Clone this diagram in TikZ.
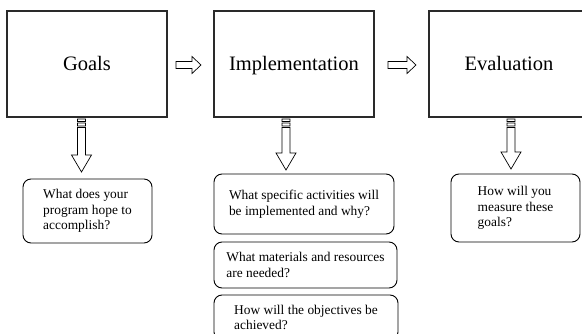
\documentclass[tikz,border=0pt]{standalone}
\usepackage{fontspec}
\setmainfont{Liberation Serif}
\usetikzlibrary{positioning, calc}
\definecolor{boxgray}{HTML}{2A2A2A}

\begin{document}
\begin{tikzpicture}[x=1pt, y=-1pt,
  stage/.style={draw=boxgray, line width=1.1pt, minimum width=160pt, minimum height=106pt, inner sep=0pt, outer sep=0pt, text height=16pt, text depth=2pt, font=\fontsize{20.5}{24}\selectfont},
  question/.style={draw, line width=0.9pt, rounded corners=8pt, align=left, inner sep=0pt, outer sep=0pt, font=\fontsize{13.4}{15.5}\selectfont},
  downblock/.style={line width=0.7pt, to path={
      ($(\tikztostart)+(-4,0)$) rectangle ($(\tikztostart)+(4,2.5)$)
      ($(\tikztostart)+(-4,4)$) rectangle ($(\tikztostart)+(4,7)$)
      ($(\tikztostart)+(-4,8.5)$) -- ($(\tikztotarget)+(-4,-17)$) -- ($(\tikztotarget)+(-10,-17)$) -- (\tikztotarget)
      -- ($(\tikztotarget)+(10,-17)$) -- ($(\tikztotarget)+(4,-17)$) -- ($(\tikztostart)+(4,8.5)$) -- cycle}},
  rightblock/.style={line width=0.7pt, to path={
      ($(\tikztostart)+(0,-3.5)$) -- ($(\tikztotarget)+(-9,-3.5)$) -- ($(\tikztotarget)+(-9,-8.5)$) -- (\tikztotarget)
      -- ($(\tikztotarget)+(-9,8.5)$) -- ($(\tikztotarget)+(-9,3.5)$) -- ($(\tikztostart)+(0,3.5)$) -- cycle}}]
  \clip (0,0) rectangle (582,334);

  % Three stages
  \node[stage] (goals) at (87,64) {Goals};
  \node[stage, right=47pt of goals] (impl) {Implementation};
  \node[stage, right=55pt of impl] (eval) {Evaluation};

  % Questions under each stage
  \node[question, minimum width=129pt, minimum height=64pt, below=62pt of goals, xshift=0.5pt] (goalq)
    {What does your\\program hope to\\accomplish?};
  \node[question, minimum width=180pt, minimum height=60pt, below=57pt of impl.south west, anchor=north west] (implqa)
    {What specific activities will\\be implemented and why?};
  \node[question, minimum width=183pt, minimum height=46pt, below=8pt of implqa.south west, anchor=north west] (implqb)
    {What materials and resources\\are needed?};
  \node[question, minimum width=184pt, minimum height=45pt, below=7pt of implqb.south west, anchor=north west] (implqc)
    {How will the objectives be\\achieved?};
  \node[question, minimum width=129pt, minimum height=68pt, below=57pt of eval, xshift=6.5pt] (evalq)
    {How will you\\measure these\\goals?};

  % Block arrows between stages
  \coordinate (gi-s) at ($(goals.east)+(9,1)$);
  \coordinate (gi-e) at ($(impl.west)+(-13,1)$);
  \coordinate (ie-s) at ($(impl.east)+(14,1)$);
  \coordinate (ie-e) at ($(eval.west)+(-13,1)$);
  \draw[rightblock] (gi-s) to (gi-e);
  \draw[rightblock] (ie-s) to (ie-e);

  % Striped arrows down to the questions
  \coordinate (gq-s) at ($(goals.south)+(-5.5,2)$);
  \coordinate (gq-e) at ($(goalq.north)+(-6,-7)$);
  \coordinate (iq-s) at ($(impl.south)+(-8,2)$);
  \coordinate (iq-e) at ($(implqa.north)+(-18,-4)$);
  \coordinate (eq-s) at ($(eval.south)+(2,2)$);
  \coordinate (eq-e) at ($(evalq.north)+(-4.5,-5)$);
  \draw[downblock] (gq-s) to (gq-e);
  \draw[downblock] (iq-s) to (iq-e);
  \draw[downblock] (eq-s) to (eq-e);
\end{tikzpicture}
\end{document}
